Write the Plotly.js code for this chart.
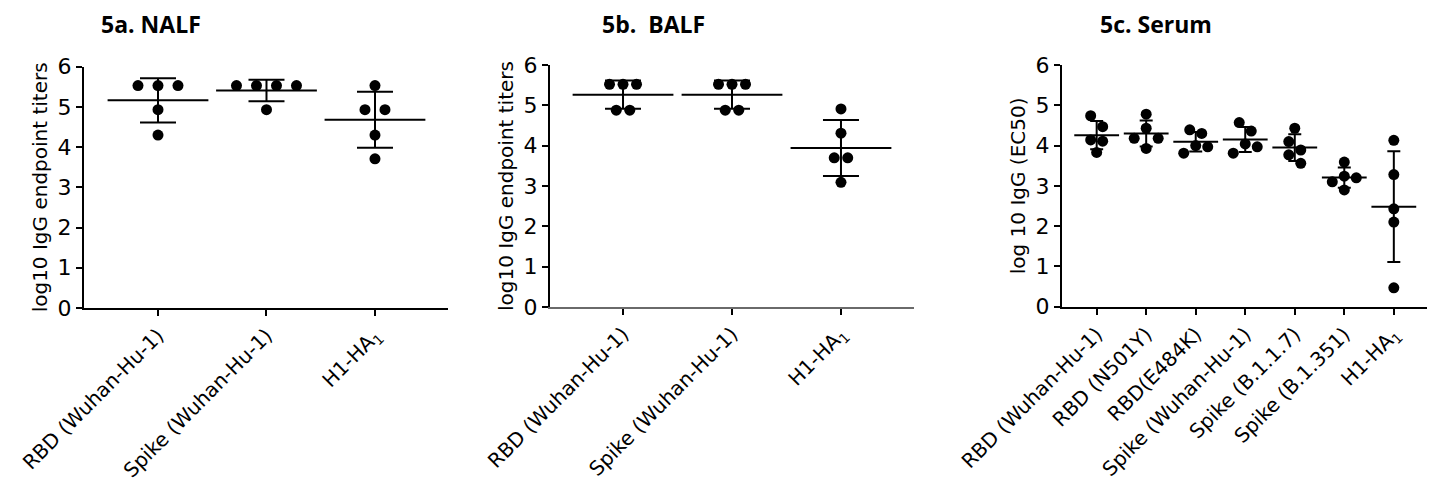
<!DOCTYPE html>
<html>
<head>
<meta charset="utf-8">
<script src="https://cdn.plot.ly/plotly-3.0.1.min.js"></script>
<style>html,body{margin:0;padding:0;background:#fff;}#chart{width:1437px;height:487px;}</style>
</head>
<body>
<div id="chart"></div>
<script>
// ---------- data ----------
const nalfCategories = ['RBD (Wuhan-Hu-1)', 'Spike (Wuhan-Hu-1)', 'H1-HA<sub>1</sub>'];
const nalfValues = [
  [5.53, 5.53, 5.53, 4.93, 4.30],
  [5.53, 5.53, 5.53, 5.53, 4.93],
  [5.53, 4.93, 4.93, 4.30, 3.71]
];
const balfCategories = ['RBD (Wuhan-Hu-1)', 'Spike (Wuhan-Hu-1)', 'H1-HA<sub>1</sub>'];
const balfValues = [
  [5.52, 5.52, 5.52, 4.88, 4.88],
  [5.52, 5.52, 5.52, 4.88, 4.88],
  [4.91, 4.31, 3.70, 3.70, 3.09]
];
const serumCategories = ['RBD (Wuhan-Hu-1)', 'RBD (N501Y)', 'RBD(E484K)', 'Spike (Wuhan-Hu-1)',
  'Spike (B.1.1.7)', 'Spike (B.1.351)', 'H1-HA<sub>1</sub>'];
const serumValues = [
  [4.74, 4.47, 4.14, 4.11, 3.83],
  [4.78, 4.43, 4.18, 4.18, 3.93],
  [4.39, 4.30, 4.00, 3.97, 3.81],
  [4.57, 4.36, 4.04, 3.97, 3.81],
  [4.43, 4.10, 3.89, 3.77, 3.56],
  [3.59, 3.24, 3.20, 3.10, 2.90],
  [4.13, 3.28, 2.43, 2.10, 0.47]
];
const yTickValues = [0, 1, 2, 3, 4, 5, 6];
const panelTitles = ['5a. NALF', '5b.  BALF', '5c. Serum'];
const yTitles = ['log10 IgG endpoint titers', 'log10 IgG endpoint titers', 'log 10 IgG (EC50)'];

// ---------- layout geometry (pixels) ----------
const W = 1437, H = 487;
const panels = [
  {cats: nalfCategories, vals: nalfValues, xL: 84, xR: 448, yB: 308, yT: 66.7, padL: 0.682, padR: 0.673,
   step: 20, meanW: 72, capW: 18, xLineColor: '#000', xLineWidth: 2},
  {cats: balfCategories, vals: balfValues, xL: 550, xR: 914, yB: 307, yT: 65, padL: 0.67, padR: 0.67,
   step: 13.5, meanW: 72, capW: 18, xLineColor: '#6a6a6a', xLineWidth: 1.5},
  {cats: serumCategories, vals: serumValues, xL: 1062, xR: 1427, yB: 306.7, yT: 65, padL: 0.70, padR: 0.67,
   step: 12, meanW: 32, capW: 6.5, xLineColor: '#000', xLineWidth: 2}
];
const FONT = 'DejaVu Sans, sans-serif';
const MARKER = 11;

function mean(a){ return a.reduce((s,v)=>s+v,0)/a.length; }
function sd(a){ const m = mean(a); return Math.sqrt(a.reduce((s,v)=>s+(v-m)*(v-m),0)/(a.length-1)); }

// simple beeswarm: greedy placement, then centre each cluster of overlapping points
function swarm(values, pxPerY, step, minD){
  const idx = values.map((v,i)=>i).sort((a,b)=>values[b]-values[a]);
  const off = new Array(values.length).fill(0);
  const placed = [];
  idx.forEach(i=>{
    const y = values[i]*pxPerY;
    const cands = [0];
    for (let k=1;k<8;k++){ cands.push(k*step, -k*step); }
    for (const c of cands){
      if (placed.every(p => Math.hypot(p.x-c, p.y-y) >= minD)){ off[i]=c; placed.push({x:c,y:y}); break; }
    }
  });
  let comp = [[idx[0]]];
  for (let k=1;k<idx.length;k++){
    if ((values[idx[k-1]]-values[idx[k]])*pxPerY < minD) comp[comp.length-1].push(idx[k]);
    else comp.push([idx[k]]);
  }
  comp.forEach(c=>{
    if (c.length>1){ const m = mean(c.map(i=>off[i])); c.forEach(i=>off[i]-=m); }
  });
  return off;
}

const traces = [];
const layout = {
  width: W, height: H, margin: {l:0,r:0,t:0,b:0},
  paper_bgcolor: '#fff', plot_bgcolor: 'rgba(0,0,0,0)', showlegend: false,
  annotations: [], shapes: []
};
const titleX = [150.5, 653, 1155.5];

panels.forEach((p, k)=>{
  const n = p.cats.length;
  const sfx = k===0 ? '' : String(k+1);
  const xr = [-p.padL, n-1+p.padR];
  const pxPerCat = (p.xR-p.xL)/(xr[1]-xr[0]);
  const pxPerY = (p.yB-p.yT)/6;
  const xs = [], ys = [];
  p.vals.forEach((g, gi)=>{
    const off = swarm(g, pxPerY, p.step, MARKER);
    g.forEach((v, j)=>{ xs.push(gi + off[j]/pxPerCat); ys.push(v); });
  });
  const cats = p.cats.map((c,i)=>i);
  traces.push({
    type: 'scatter', mode: 'markers', x: cats, y: p.vals.map(mean),
    xaxis: 'x'+sfx, yaxis: 'y'+sfx, cliponaxis: false, hoverinfo: 'skip',
    marker: {symbol: 'line-ew', size: p.meanW, color: '#000', line: {width: 2, color: '#000'}},
    error_y: {type: 'data', array: p.vals.map(sd), symmetric: true, width: p.capW, thickness: 2, color: '#000'}
  });
  traces.push({
    type: 'scatter', mode: 'markers', x: xs, y: ys, xaxis: 'x'+sfx, yaxis: 'y'+sfx,
    cliponaxis: false, hoverinfo: 'skip',
    marker: {size: MARKER, color: '#000', line: {width: 0}}
  });
  layout['xaxis'+sfx] = {
    domain: [p.xL/W, p.xR/W], anchor: 'y'+sfx, range: xr, fixedrange: true,
    tickmode: 'array', tickvals: cats, ticktext: p.cats, tickangle: -45,
    showline: true, linecolor: p.xLineColor, linewidth: p.xLineWidth,
    ticks: 'outside', ticklen: 6, tickwidth: 2, tickcolor: '#000',
    showgrid: false, zeroline: false,
    tickfont: {family: FONT, size: 20, color: '#000'}
  };
  layout['yaxis'+sfx] = {
    domain: [(H-p.yB)/H, (H-p.yT)/H], anchor: 'x'+sfx, range: [0, 6], fixedrange: true,
    tickmode: 'array', tickvals: yTickValues, ticktext: yTickValues.map(String),
    showline: true, linecolor: '#000', linewidth: 2,
    ticks: 'outside', ticklen: 6, tickwidth: 2, tickcolor: '#000',
    showgrid: false, zeroline: false,
    tickfont: {family: FONT, size: 22, color: '#000'},
    title: {text: yTitles[k], font: {family: FONT, size: 20, color: '#000'}, standoff: 5}
  };
  layout.annotations.push({
    xref: 'paper', yref: 'paper', x: titleX[k]/W, y: 1-24/H, xanchor: 'center', yanchor: 'middle',
    text: '<b>'+panelTitles[k]+'</b>', showarrow: false,
    font: {family: 'Open Sans, sans-serif', size: 23, color: '#000'}
  });
});

// axis break on the serum x-axis
layout.shapes.push({type: 'rect', xref: 'x3', yref: 'y3', x0: 6.08, x1: 6.22, y0: -0.12, y1: 0.12,
  fillcolor: '#fff', line: {width: 0}, layer: 'above'});

Plotly.newPlot('chart', traces, layout, {staticPlot: true, displayModeBar: false});
</script>
</body>
</html>
